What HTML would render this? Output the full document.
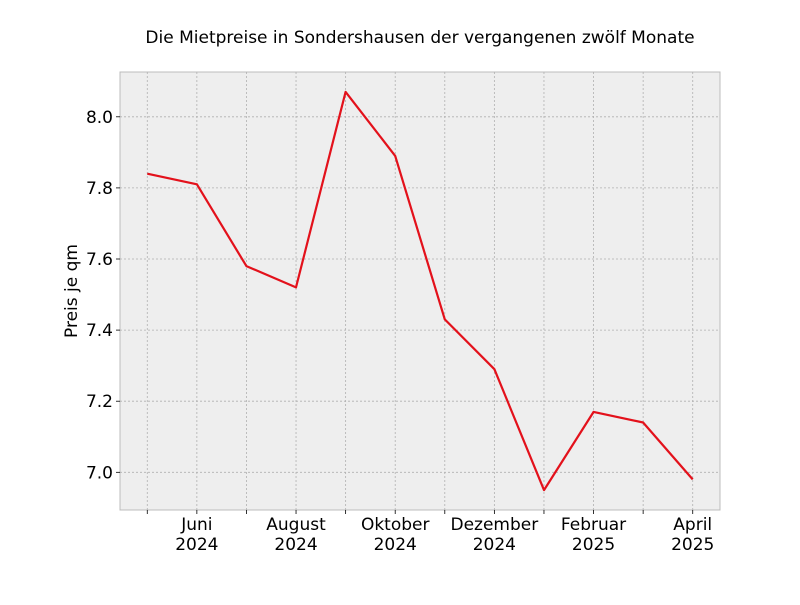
<!DOCTYPE html>
<html><head><meta charset="utf-8">
<style>
body{margin:0;background:#fff;}
svg{font-family:"DejaVu Sans","Liberation Sans",sans-serif;}
</style></head>
<body>
<svg id="chart" width="800" height="600" xmlns="http://www.w3.org/2000/svg">
<text x="420" y="43" font-size="17" text-anchor="middle" fill="#000">Die Mietpreise in Sondershausen der vergangenen zwölf Monate</text>
<rect x="120" y="72" width="600" height="438" fill="#eeeeee" stroke="#bcbcbc" stroke-width="1"/>
<g id="grid"></g>
<g id="axes"></g>
<g id="series"></g>
<text transform="translate(77,291) rotate(-90)" font-size="17" text-anchor="middle">Preis je qm</text>
</svg>
<script>
const months = ["Mai 2024","Juni 2024","Juli 2024","August 2024","September 2024","Oktober 2024","November 2024","Dezember 2024","Januar 2025","Februar 2025","März 2025","April 2025"];
const prices = [7.84, 7.81, 7.58, 7.52, 8.07, 7.89, 7.43, 7.29, 6.95, 7.17, 7.14, 6.98];
const xLabels = [["",""],["Juni","2024"],["",""],["August","2024"],["",""],["Oktober","2024"],["",""],["Dezember","2024"],["",""],["Februar","2025"],["",""],["April","2025"]];
const yTicks = [7.0, 7.2, 7.4, 7.6, 7.8, 8.0];

const L=120,R=720,T=72,B=510;
const n=months.length;
const xmin=-0.55*(n-1)/11, xmax=(n-1)+0.55*(n-1)/11;
const ymn=Math.min(...prices), ymx=Math.max(...prices), pad=(ymx-ymn)*0.05;
const ymin=ymn-pad, ymax=ymx+pad;
const xs=i=>L+(i-xmin)/(xmax-xmin)*(R-L);
const ys=v=>B-(v-ymin)/(ymax-ymin)*(B-T);
const NS="http://www.w3.org/2000/svg";
function mk(tag,attrs,parent){const e=document.createElementNS(NS,tag);for(const k in attrs)e.setAttribute(k,attrs[k]);parent.appendChild(e);return e;}
const grid=document.getElementById('grid'),axes=document.getElementById('axes'),series=document.getElementById('series');
months.forEach((m,i)=>{
  const x=xs(i);
  const g=mk('line',{x1:x,x2:x,y1:T,y2:B,stroke:'#b0b0b0','stroke-width':0.8,'stroke-dasharray':'2,2'},grid);
  
  
  const t=mk('line',{x1:x,x2:x,y1:B,y2:B+4,stroke:'#000','stroke-width':0.8},axes);
  
  
  if(xLabels[i][0]){
    const tx=mk('text',{x:x,y:B+20,'font-size':17,'text-anchor':'middle'},axes);
    tx.textContent=xLabels[i][0];
    
    
    const ty=mk('text',{x:x,y:B+40,'font-size':17,'text-anchor':'middle'},axes);
    ty.textContent=xLabels[i][1];
    
    
  }
});
yTicks.forEach(v=>{
  const y=ys(v);
  const g=mk('line',{x1:L,x2:R,y1:y,y2:y,stroke:'#b0b0b0','stroke-width':0.8,'stroke-dasharray':'2,2'},grid);
  
  
  const t=mk('line',{x1:L-4,x2:L,y1:y,y2:y,stroke:'#000','stroke-width':0.8},axes);
  
  
  const tx=mk('text',{x:L-7,y:y+6,'font-size':17,'text-anchor':'end'},axes);
  tx.textContent=v.toFixed(1);
  
  
});
const pts=prices.map((v,i)=>xs(i).toFixed(1)+','+ys(v).toFixed(1)).join(' ');
const pl=mk('polyline',{points:pts,fill:'none',stroke:'#e3111b','stroke-width':2.2,'stroke-linejoin':'round'},series);


</script>
</body></html>
